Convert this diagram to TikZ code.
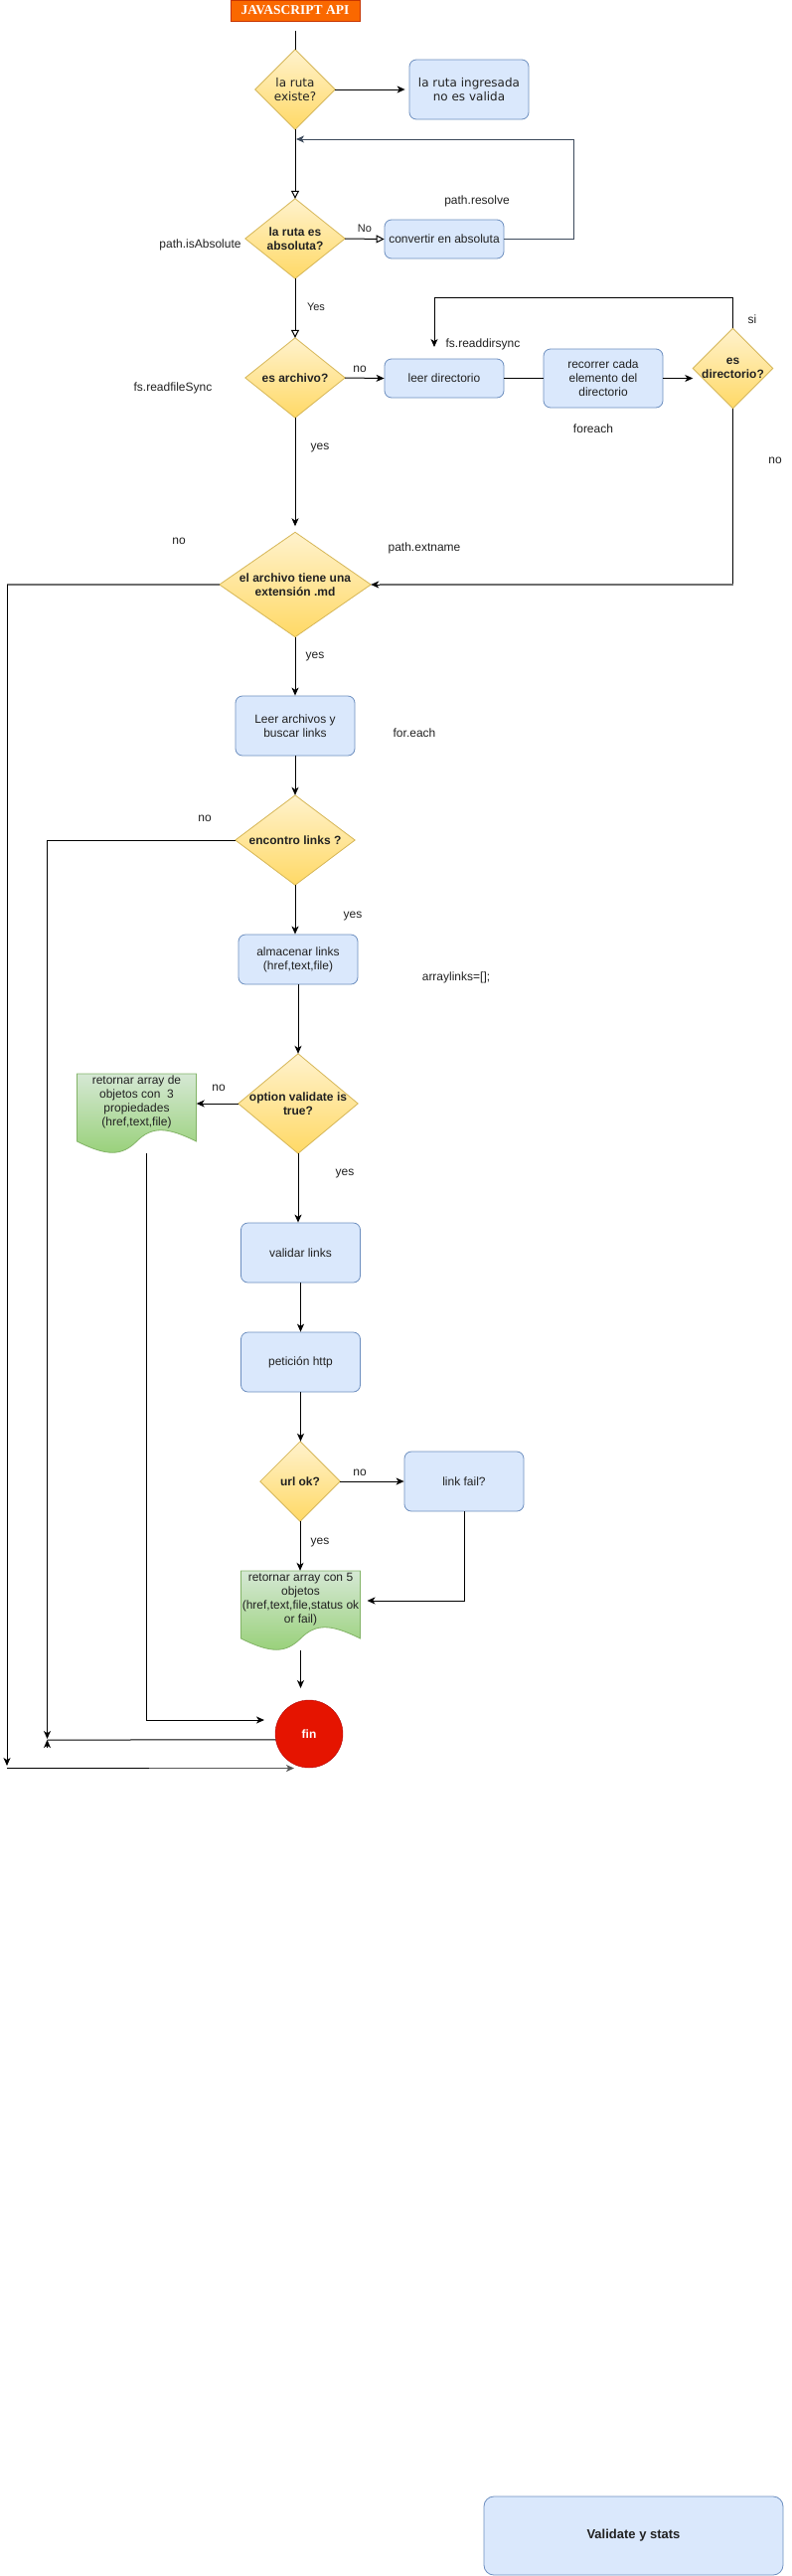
\documentclass[tikz,border=0pt]{standalone}
\usepackage{fontspec}
\setmainfont{Liberation Sans}
\newfontfamily\dejavu{DejaVu Sans}
\newfontfamily\titlefont{Liberation Serif}
\usetikzlibrary{arrows.meta,calc}
\pgfdeclarelayer{bg}
\pgfsetlayers{bg,main}
\definecolor{bfill}{HTML}{DAE8FC}
\definecolor{bstroke}{HTML}{6C8EBF}
\definecolor{ytop}{HTML}{FFF2CC}
\definecolor{ybot}{HTML}{FFD966}
\definecolor{ystroke}{HTML}{D6B656}
\definecolor{gtop}{HTML}{D5E8D4}
\definecolor{gbot}{HTML}{97D077}
\definecolor{gstroke}{HTML}{82B366}
\definecolor{ofill}{HTML}{FA6800}
\definecolor{ostroke}{HTML}{C73500}
\definecolor{rfill}{HTML}{E51400}
\definecolor{rstroke}{HTML}{B20000}
\definecolor{txt}{HTML}{222222}
\definecolor{loopc}{HTML}{3D4A5C}
\definecolor{grayl}{HTML}{6E6E6E}
\newcommand\diabg[1]{\begin{pgfonlayer}{bg}\shadedraw[top color=ytop,bottom color=ybot,draw=ystroke,line width=0.8pt] (#1.north)--(#1.east)--(#1.south)--(#1.west)--cycle;\end{pgfonlayer}}
\begin{document}
\begin{tikzpicture}[x=1pt,y=-1pt,
  box/.style={rectangle,rounded corners=7pt,draw=bstroke,fill=bfill,line width=0.8pt,minimum width=120pt,minimum height=60pt,align=center,font=\fontsize{12}{14}\selectfont,inner sep=2pt,text=txt},
  dtext/.style={rectangle,draw=none,align=center,font=\bfseries\fontsize{12}{14}\selectfont,inner sep=0pt,text=txt},
  doctext/.style={rectangle,draw=none,align=center,font=\fontsize{12}{14}\selectfont,inner sep=0pt,minimum width=120pt,minimum height=57pt,text=txt},
  lbl/.style={font=\fontsize{12}{14}\selectfont,inner sep=0pt,text=txt},
  elbl/.style={font=\fontsize{11}{13}\selectfont,inner sep=0pt,text=txt},
  line/.style={line width=1pt,black},
  arr/.style={line,-{Stealth[length=8pt,width=7pt,inset=2.2pt]}},
  oarr/.style={line,-{Triangle[open,length=8pt,width=8pt]}},
  grayline/.style={line width=1.4pt,grayl},
  loopline/.style={color=loopc},
  titlebox/.style={rectangle,draw=ostroke,fill=ofill,minimum width=130pt,minimum height=21pt,inner sep=0pt,text=white,font=\titlefont\bfseries\fontsize{13.5}{15}\selectfont},
  finnode/.style={circle,draw=rstroke,fill=rfill,minimum size=68pt,inner sep=0pt,text=white,font=\bfseries\fontsize{12}{14}\selectfont}
]
\useasboundingbox (0,0) rectangle (796,2591);
\begin{pgfonlayer}{bg}\fill[white] (0,0) rectangle (796,2591);\end{pgfonlayer}

% nodes
\node[titlebox] (api) at (297,10.5) {JAVASCRIPT API};
\node[dtext,minimum width=80pt,minimum height=80pt,font=\dejavu\fontsize{12}{14}\selectfont] (d1) at (297,90) {la ruta\\existe?};
\diabg{d1}
\node[box,font=\dejavu\fontsize{12}{14}\selectfont] (inv) at (472,90) {la ruta ingresada\\no es valida};
\node[dtext,minimum width=100pt,minimum height=80pt] (d2) at (297,240) {la ruta es\\absoluta?};
\diabg{d2}
\node[box,minimum height=39pt] (conv) at (447,240.5) {convertir en absoluta};
\node[dtext,minimum width=100pt,minimum height=80pt] (d3) at (297,380) {es archivo?};
\diabg{d3}
\node[box,minimum height=39pt] (leer) at (447,380.5) {leer directorio};
\node[box,minimum height=59pt] (rec) at (607,380.5) {recorrer cada\\elemento del\\directorio};
\node[dtext,minimum width=80pt,minimum height=80pt] (d4) at (737.5,370.5) {es\\directorio?};
\diabg{d4}
\node[dtext,minimum width=152pt,minimum height=105pt] (d5) at (297,588) {el archivo tiene una\\extensión .md};
\diabg{d5}
\node[box] (lee) at (297,730) {Leer archivos y\\buscar links};
\node[dtext,minimum width=120pt,minimum height=90pt] (d6) at (297,845) {encontro links ?};
\diabg{d6}
\node[box,minimum height=50pt] (alm) at (300,965) {almacenar links\\(href,text,file)};
\node[dtext,minimum width=120pt,minimum height=100pt] (d7) at (300,1110) {option validate is\\true?};
\diabg{d7}
\node[doctext] (doc1) at (137.5,1108.5) {retornar array de\\objetos con\ \ 3\\propiedades\\(href,text,file)};
\begin{pgfonlayer}{bg}
\shadedraw[top color=gtop,bottom color=gbot,draw=gstroke,line width=0.8pt] (77.5,1080) -- (197.5,1080) -- (197.5,1148) .. controls (167.5,1133) and (152.5,1133) .. (137.5,1148) .. controls (122.5,1163) and (107.5,1163) .. (77.5,1148) -- cycle;
\end{pgfonlayer}
\node[box] (val) at (302.5,1260) {validar links};
\node[box] (pet) at (302.5,1370) {petición http};
\node[dtext,minimum width=80pt,minimum height=80pt] (d8) at (302,1490) {url ok?};
\diabg{d8}
\node[box] (lf) at (467,1490) {link fail?};
\node[doctext] (doc2) at (302.5,1608.5) {retornar array con 5\\objetos\\(href,text,file,status ok\\or fail)};
\begin{pgfonlayer}{bg}
\shadedraw[top color=gtop,bottom color=gbot,draw=gstroke,line width=0.8pt] (242.5,1580) -- (362.5,1580) -- (362.5,1648) .. controls (332.5,1633) and (317.5,1633) .. (302.5,1648) .. controls (287.5,1663) and (272.5,1663) .. (242.5,1648) -- cycle;
\end{pgfonlayer}
\node[finnode] (fin) at (311,1744) {fin};
\node[box,minimum width=301pt,minimum height=79pt,rounded corners=10pt,font=\bfseries\fontsize{13}{15}\selectfont] (vs) at (637.5,2550.5) {Validate y stats};

% free end points
\coordinate (a0) at (297,31);
\coordinate (c1) at (298,140);
\coordinate (c2) at (437,349);
\coordinate (c4) at (7,588);
\coordinate (c5) at (7,1776);
\coordinate (c6) at (7,1778.5);
\coordinate (c6b) at (150,1778.5);
\coordinate (c7) at (296,1778.5);
\coordinate (c8) at (47.5,1749);
\coordinate (c9) at (369.5,1610);
\coordinate (c10) at (302.5,1660);
\coordinate (c11) at (302.5,1698);
\coordinate (c12) at (147.5,1160);
\coordinate (c13) at (266,1730);
\coordinate (c14) at (47.5,1750);

% connectors
\draw[line] (a0) -- (d1.north);
\draw[arr,shorten >=4pt] (d1.east) -- (inv.west);
\draw[oarr] (d1.south) -- (d2.north);
\draw[oarr] (d2.east) -- (conv.west);
\draw[arr,loopline] (conv.east) -- ++(70,0) |- (c1);
\draw[oarr] (d2.south) -- (d3.north);
\draw[arr] (d3.east) -- (leer.west);
\draw[line] (leer.east) -- (rec.west);
\draw[arr] (rec.east) -- (rec.east -| d4.west);
\draw[arr] (d4.north) -- ++(0,-31) -| (c2);
\draw[arr,shorten >=6pt] (d3.south) -- (d5.north);
\draw[line] (d4.south) -- (d4.south |- d5.east);
\draw[grayline] (d4.south |- d5.east) -- ([xshift=9pt]d5.east);
\draw[arr] ([xshift=9pt]d5.east) -- (d5.east);
\draw[grayline] (d5.west) -- (c4);
\draw[arr] (c4) -- (c5);
\draw[line width=1.2pt,black] (c6) -- (c6b);
\draw[line width=1.2pt,color=grayl!80!black,-{Stealth[length=8pt,width=7pt,inset=2.2pt]}] (c6b) -- (c7);
\draw[arr] (d5.south) -- (lee.north);
\draw[arr] (lee.south) -- (d6.north);
\draw[arr] (d6.west) -| (c8);
\draw[arr] (d6.south) -- (d6.south |- alm.north);
\draw[arr] (alm.south) -- (d7.north);
\draw[arr] (d7.west) -- (d7.west -| doc1.east);
\draw[arr] (d7.south) -- (d7.south |- val.north);
\draw[arr] (val.south) -- (pet.north);
\draw[arr] (pet.south) -- (pet.south |- d8.north);
\draw[arr] (d8.east) -- (lf.west);
\draw[arr] (d8.south) -- (d8.south |- doc2.north);
\draw[arr] (lf.south) |- (c9);
\draw[arr] (c10) -- (c11);
\draw[arr] (c12) |- (c13);
\draw[line] (fin.190) -- (c14);
\draw[arr] ([yshift=-8pt]c14) -- (c14);

% labels
\node[elbl] (l1) at (367,230) {No};
\node[elbl] (l2) at (318,309) {Yes};
\node[lbl] (l3) at (480,202) {path.resolve};
\node[lbl] (l4) at (201.5,246) {path.isAbsolute};
\node[lbl] (l5) at (362,371) {no};
\node[lbl] (l6) at (486,346) {fs.readdirsync};
\node[lbl] (l7) at (757,321) {si};
\node[lbl] (l8) at (174,390) {fs.readfileSync};
\node[lbl] (l9) at (597,431) {foreach};
\node[lbl] (l10) at (322,451) {yes};
\node[lbl] (l11) at (780,463) {no};
\node[lbl] (l12) at (180,544) {no};
\node[lbl] (l13) at (427,551) {path.extname};
\node[lbl] (l14) at (317,661) {yes};
\node[lbl] (l15) at (417,737) {for.each};
\node[lbl] (l16) at (206,823) {no};
\node[lbl] (l17) at (355,922) {yes};
\node[lbl] (l18) at (459,983) {arraylinks=[];};
\node[lbl] (l19) at (220,1094) {no};
\node[lbl] (l20) at (347,1181) {yes};
\node[lbl] (l21) at (362,1481) {no};
\node[lbl] (l22) at (322,1551) {yes};
\end{tikzpicture}
\end{document}
